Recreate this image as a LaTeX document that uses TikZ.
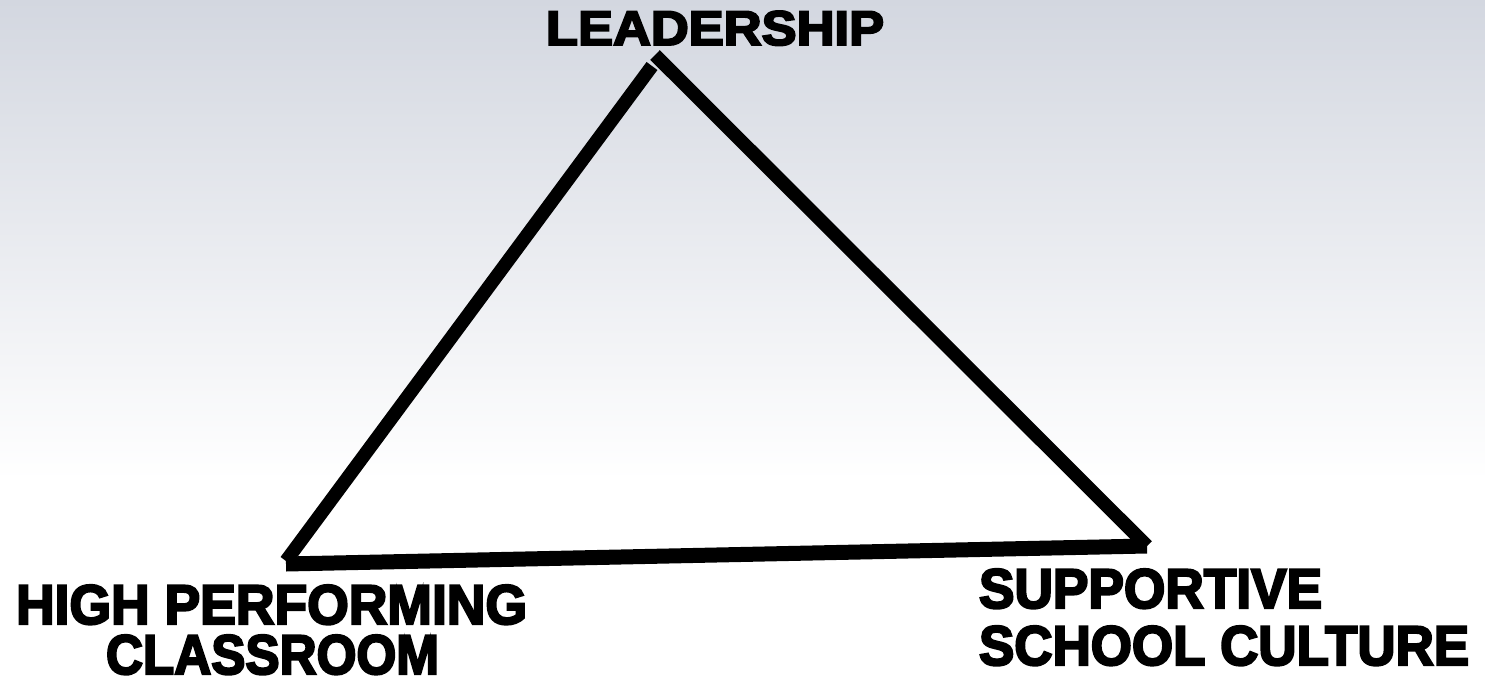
\documentclass[tikz,border=0pt]{standalone}
\usepackage{fontspec}
\setmainfont{Liberation Sans}[BoldFeatures={FakeBold=4}]
\usepackage{graphicx}
\begin{document}
\begin{tikzpicture}[x=1pt,y=-1pt,
  edge/.style={line width=13.5pt,line cap=butt,black},
  lbl/.style={inner sep=0pt,outer sep=0pt,anchor=north west}]
\useasboundingbox (0,0) rectangle (1485,682);
\shade[top color={rgb,255:red,211;green,215;blue,224},bottom color=white] (0,0) rectangle (1485,480);
\fill[white] (0,480) rectangle (1485,682);
% vertices
\coordinate (ltop) at (652,66);
\coordinate (lbot) at (286,561);
\coordinate (rtop) at (655,55);
\coordinate (rbot) at (1147,546);
\coordinate (bl) at (286,564);
\coordinate (br) at (1147,546);
\draw[edge] (lbot) -- (ltop);
\draw[edge] (rtop) -- (rbot);
\draw[edge,line width=15pt] (bl) -- (br);
% labels
\node[lbl] (lead) at (546,11) {\resizebox{338pt}{34pt}{\bfseries LEADERSHIP}};
\node[lbl] (hp1) at (16,585) {\resizebox{511pt}{39pt}{\bfseries HIGH PERFORMING}};
\node[lbl] (hp2) at (106,635) {\resizebox{333pt}{39pt}{\bfseries CLASSROOM}};
\node[lbl] (sc1) at (979,569) {\resizebox{343pt}{39pt}{\bfseries SUPPORTIVE}};
\node[lbl] (sc2) at (979,626) {\resizebox{490pt}{39pt}{\bfseries SCHOOL CULTURE}};
\end{tikzpicture}
\end{document}
